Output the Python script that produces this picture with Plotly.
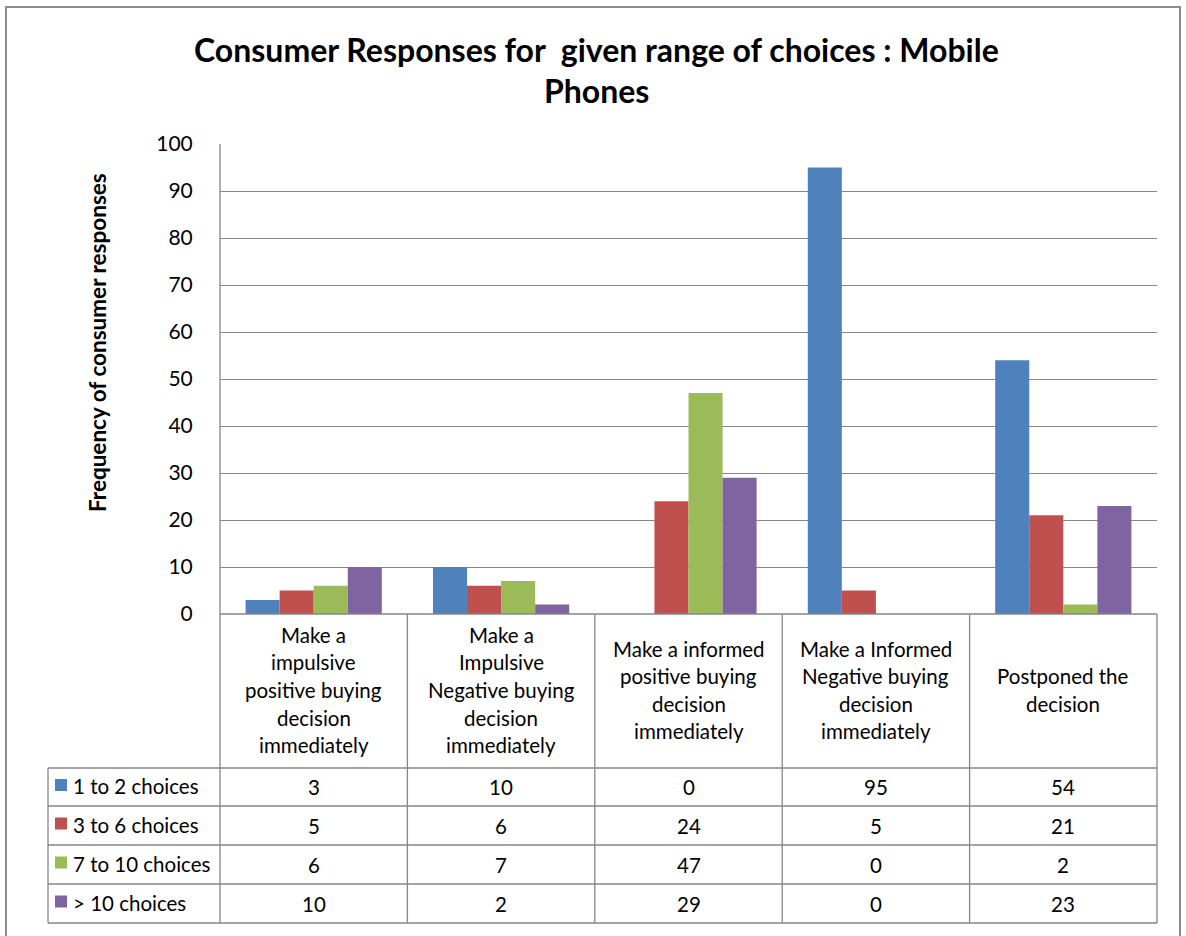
import plotly.graph_objects as go

W, H = 1186, 936

categories = [
    "Make a<br>impulsive<br>positive buying<br>decision<br>immediately",
    "Make a<br>Impulsive<br>Negative buying<br>decision<br>immediately",
    "Make a informed<br>positive buying<br>decision<br>immediately",
    "Make a Informed<br>Negative buying<br>decision<br>immediately",
    "Postponed the<br>decision",
]
series_names = ["1 to 2 choices", "3 to 6 choices", "7 to 10 choices", "> 10 choices"]
s_1to2 = [3, 10, 0, 95, 54]
s_3to6 = [5, 6, 24, 5, 21]
s_7to10 = [6, 7, 47, 0, 2]
s_gt10 = [10, 2, 29, 0, 23]
series_values = [s_1to2, s_3to6, s_7to10, s_gt10]
colors = ["#4F81BD", "#C0504D", "#9BBB59", "#8064A2"]
y_ticks = [0, 10, 20, 30, 40, 50, 60, 70, 80, 90, 100]
title_text = "Consumer Responses for  given range of choices : Mobile<br>Phones"
y_title = "Frequency of consumer responses"

FONT = "Lato, Calibri, Carlito, sans-serif"
GRID = "#868686"

# layout geometry (pixels)
PL, PR, PT, PB = 220, 1157, 144, 614
TL = 48
HDR_B = 768
ROWS = [768, 806, 845, 884, 923]

def px(x):
    return x / W

def py(y):
    return (H - y) / H

fig = go.Figure()
x_idx = list(range(len(categories)))
for name, vals, col in zip(series_names, series_values, colors):
    fig.add_trace(go.Bar(x=x_idx, y=vals, name=name, marker=dict(color=col, line=dict(width=0)),
                         showlegend=False, hoverinfo="y"))

shapes = []
annotations = []

def line(x0, y0, x1, y1, color=GRID, width=1.3):
    shapes.append(dict(type="line", xref="paper", yref="paper", x0=px(x0), y0=py(y0),
                       x1=px(x1), y1=py(y1), line=dict(color=color, width=width)))

# outer border
shapes.append(dict(type="rect", xref="paper", yref="paper", x0=px(6), y0=py(940), x1=px(1180), y1=py(7),
                   line=dict(color="#8C8C8C", width=2), fillcolor="rgba(0,0,0,0)"))

# table horizontals
line(PL, PB, PR, PB)
for r in ROWS:
    line(TL, r, PR, r)
# table verticals
line(TL, ROWS[0], TL, ROWS[-1])
line(PL, PT, PL, ROWS[-1])
n = len(categories)
colw = (PR - PL) / n
for i in range(1, n + 1):
    xx = PL + i * colw
    line(xx, PB, xx, ROWS[-1])

FS = 20.5
# category header labels, line by line
LS = 27.5
for i, cat in enumerate(categories):
    lines = cat.split("<br>")
    cy = (PB + HDR_B) / 2 - 1
    start = cy - LS * (len(lines) - 1) / 2
    for k, t in enumerate(lines):
        annotations.append(dict(x=i, xref="x", y=py(start + k * LS), yref="paper", text=t,
                                showarrow=False, xanchor="center", yanchor="middle",
                                font=dict(family=FONT, size=FS, color="#000")))

# table rows
for r, (name, vals, col) in enumerate(zip(series_names, series_values, colors)):
    cy = (ROWS[r] + ROWS[r + 1]) / 2
    shapes.append(dict(type="rect", xref="paper", yref="paper", x0=px(55), x1=px(67),
                       y0=py(cy + 6 - 2), y1=py(cy - 6 - 2), fillcolor=col, line=dict(width=0)))
    annotations.append(dict(x=px(71), xref="paper", y=py(cy - 1), yref="paper", text=name,
                            showarrow=False, xanchor="left", yanchor="middle",
                            font=dict(family=FONT, size=FS, color="#000")))
    for i, v in enumerate(vals):
        annotations.append(dict(x=i, xref="x", y=py(cy), yref="paper", text=str(v),
                                showarrow=False, xanchor="center", yanchor="middle",
                                font=dict(family=FONT, size=FS, color="#000")))

# y-axis title
annotations.append(dict(x=px(97), xref="paper", y=py(343), yref="paper", text="<b>" + y_title + "</b>",
                        showarrow=False, textangle=-90, xanchor="center", yanchor="middle",
                        font=dict(family=FONT, size=22.5, color="#000")))
# title
tl = title_text.split("<br>")
for k, t in enumerate(tl):
    annotations.append(dict(x=px(596), xref="paper", y=py(49 + 42 * k), yref="paper", text="<b>" + t + "</b>",
                            showarrow=False, xanchor="center", yanchor="middle",
                            font=dict(family=FONT, size=32, color="#000")))

fig.update_layout(
    width=W, height=H, margin=dict(l=0, r=0, t=0, b=0, autoexpand=False),
    paper_bgcolor="white", plot_bgcolor="white",
    barmode="group", bargap=0.273, bargroupgap=0,
    xaxis=dict(domain=[px(PL), px(PR)], range=[-0.5, n - 0.5], showticklabels=False,
               showgrid=False, zeroline=False, showline=False, fixedrange=True, automargin=False),
    yaxis=dict(domain=[py(PB), py(PT)], range=[0, 100], tickvals=y_ticks,
               showgrid=True, gridcolor=GRID, gridwidth=1.3, zeroline=False, showline=False,
               ticks="outside", ticklen=0, ticklabelstandoff=22, automargin=False,
               tickfont=dict(family=FONT, size=21, color="#000")),
    shapes=shapes, annotations=annotations, showlegend=False,
)

fig.write_html("out.html")
